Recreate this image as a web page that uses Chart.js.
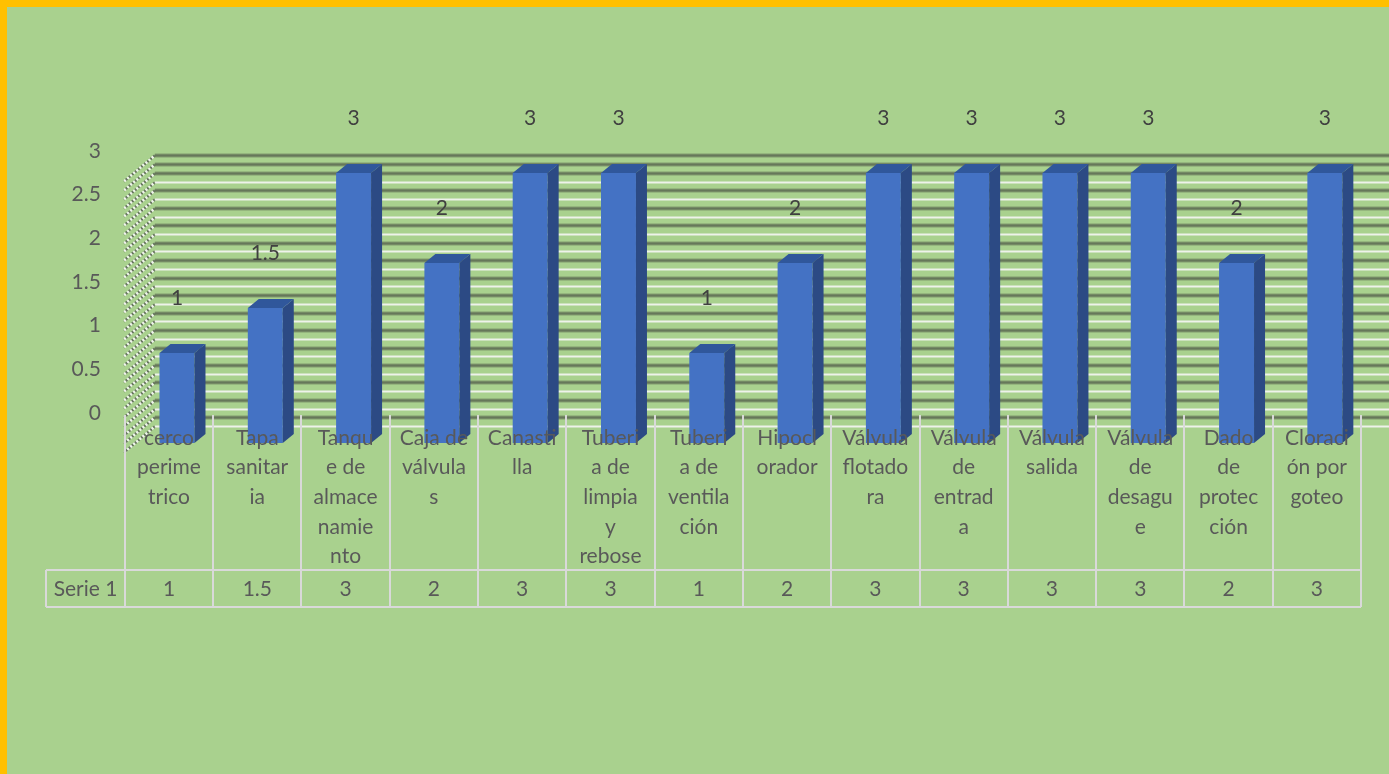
<!DOCTYPE html>
<html>
<head>
<meta charset="utf-8">
<script src="https://cdn.jsdelivr.net/npm/chart.js@4.4.0/dist/chart.umd.min.js"></script>
<style>
  html, body { margin: 0; padding: 0; background: #a9d18e; }
  canvas { display: block; }
</style>
</head>
<body>
<canvas id="chart" width="1389" height="774"></canvas>
<script>
// category names, already split the way they wrap inside the table cells
const categories = [
  ["cerco", "perime", "trico"],
  ["Tapa", "sanitar", "ia"],
  ["Tanqu", "e de", "almace", "namie", "nto"],
  ["Caja de", "válvula", "s"],
  ["Canasti", "lla"],
  ["Tuberi", "a de", "limpia", "y", "rebose"],
  ["Tuberi", "a de", "ventila", "ción"],
  ["Hipocl", "orador"],
  ["Válvula", "flotado", "ra"],
  ["Válvula", "de", "entrad", "a"],
  ["Válvula", "salida"],
  ["Válvula", "de", "desagu", "e"],
  ["Dado", "de", "protec", "ción"],
  ["Cloraci", "ón por", "goteo"]
];
const seriesName = "Serie 1";
const values = [1, 1.5, 3, 2, 3, 3, 1, 2, 3, 3, 3, 3, 2, 3];
const yTicks = [0, 0.5, 1, 1.5, 2, 2.5, 3];

const FONT = "Lato, 'Liberation Sans', sans-serif";
const TEXT = "#595959";
const depthX = 11;      // 3d depth of the columns
const depthY = 9;
const tableShift = 8;   // table sits a little left of the column fronts

// yellow frame + green chart background
const frame = {
  id: "frame",
  beforeDraw(chart) {
    const ctx = chart.ctx;
    ctx.save();
    ctx.fillStyle = "#ffc000";
    ctx.fillRect(0, 0, chart.width, chart.height);
    ctx.fillStyle = "#a9d18e";
    ctx.fillRect(7, 7, chart.width - 7, chart.height - 7);
    ctx.restore();
  }
};

// striped back wall and hatched side wall
const wall = {
  id: "wall",
  beforeDatasetsDraw(chart) {
    const ctx = chart.ctx;
    const s = chart.scales.yWall;
    const left = chart.chartArea.left + 22;
    ctx.save();
    for (let i = 0; i <= 31; i++) {
      const v = -0.15 + i * 0.1;
      const y = Math.round(s.getPixelForValue(v)) + 0.5;
      const dark = (31 - i) % 2 === 0 || i === 30;
      // side wall hatching
      ctx.setLineDash([2, 2]);
      ctx.lineWidth = 2.5;
      ctx.strokeStyle = "#687461";
      ctx.beginPath();
      ctx.moveTo(left, y);
      ctx.lineTo(left - 31, y + 26);
      ctx.stroke();
      ctx.lineDashOffset = 2;
      ctx.strokeStyle = "#f0f3ee";
      ctx.stroke();
      ctx.lineDashOffset = 0;
      ctx.setLineDash([]);
      // back wall line
      ctx.beginPath();
      ctx.moveTo(left, y);
      ctx.lineTo(chart.width, y);
      if (dark) {
        ctx.lineWidth = 4;
        ctx.strokeStyle = "rgba(98,114,86,0.55)";
        ctx.stroke();
        ctx.lineWidth = 2;
        ctx.strokeStyle = "#66775a";
        ctx.stroke();
      } else {
        ctx.lineWidth = 2;
        ctx.strokeStyle = "#eef2ea";
        ctx.stroke();
      }
    }
    ctx.restore();
  }
};

// side and top faces of the columns, then the value labels
const columns3d = {
  id: "columns3d",
  afterDatasetsDraw(chart) {
    const ctx = chart.ctx;
    const meta = chart.getDatasetMeta(0);
    ctx.save();
    meta.data.forEach((bar, i) => {
      const { x, y, base, width } = bar.getProps(["x", "y", "base", "width"], true);
      const l = x - width / 2, r = x + width / 2;
      ctx.fillStyle = "#2c4a84";
      ctx.beginPath();
      ctx.moveTo(r, y);
      ctx.lineTo(r + depthX, y - depthY);
      ctx.lineTo(r + depthX, base - depthY);
      ctx.lineTo(r, base);
      ctx.closePath();
      ctx.fill();
      ctx.fillStyle = "#30579b";
      ctx.beginPath();
      ctx.moveTo(l, y);
      ctx.lineTo(l + depthX, y - depthY);
      ctx.lineTo(r + depthX, y - depthY);
      ctx.lineTo(r, y);
      ctx.closePath();
      ctx.fill();

      ctx.fillStyle = "#404040";
      ctx.font = "21px " + FONT;
      ctx.textAlign = "center";
      ctx.textBaseline = "middle";
      ctx.fillText(String(values[i]), x, y - 55);
    });
    ctx.restore();
  }
};

// data table under the plot: category names and the series row
const dataTable = {
  id: "dataTable",
  afterDraw(chart) {
    const ctx = chart.ctx;
    const xs = chart.scales.x;
    const step = xs.width / categories.length;
    const top = chart.chartArea.bottom - 28;
    const rowTop = 570, rowBottom = 607;
    const headLeft = 46;
    ctx.save();
    ctx.strokeStyle = "#d9d9d9";
    ctx.lineWidth = 2;
    ctx.beginPath();
    for (let i = 0; i <= categories.length; i++) {
      const bx = Math.round(xs.getPixelForValue(i) - tableShift - step / 2);
      ctx.moveTo(bx, top);
      ctx.lineTo(bx, rowBottom);
    }
    const firstX = Math.round(xs.getPixelForValue(0) - tableShift - step / 2);
    const lastX = Math.round(xs.getPixelForValue(categories.length) - tableShift - step / 2);
    ctx.moveTo(headLeft, rowTop);
    ctx.lineTo(headLeft, rowBottom);
    ctx.moveTo(headLeft, rowTop);
    ctx.lineTo(lastX, rowTop);
    ctx.moveTo(headLeft, rowBottom);
    ctx.lineTo(lastX, rowBottom);
    ctx.stroke();

    ctx.fillStyle = TEXT;
    ctx.font = "21px " + FONT;
    ctx.textAlign = "center";
    ctx.textBaseline = "middle";
    categories.forEach((lines, i) => {
      const cx = xs.getPixelForValue(i) - tableShift;
      lines.forEach((t, k) => ctx.fillText(t, cx, 438 + k * 29.6));
      ctx.fillText(String(values[i]), cx, 589);
    });
    ctx.fillText(seriesName, (headLeft + firstX) / 2, 589);
    ctx.restore();
  }
};

new Chart(document.getElementById("chart"), {
  type: "bar",
  data: {
    labels: categories.map(c => c.join("")),
    datasets: [{
      label: seriesName,
      data: values,
      backgroundColor: "#4472c4",
      borderWidth: 0,
      categoryPercentage: 1,
      barPercentage: 0.396,
      yAxisID: "y"
    }]
  },
  options: {
    responsive: false,
    devicePixelRatio: 1,
    animation: false,
    layout: { padding: { left: 32.85, right: 20, top: 100, bottom: 331 } },
    plugins: { legend: { display: false }, tooltip: { enabled: false } },
    scales: {
      x: { type: "category", display: false },
      y: { display: false, min: 0, max: 343 / 90 },
      yWall: {
        type: "linear",
        position: "left",
        min: -30 / 87.33,
        max: -30 / 87.33 + 343 / 87.33,
        afterBuildTicks(scale) { scale.ticks = yTicks.map(v => ({ value: v })); },
        afterFit(scale) { scale.width = 100; },
        grid: { display: false, drawTicks: false },
        border: { display: false },
        ticks: {
          padding: 32,
          color: TEXT,
          font: { family: FONT, size: 21 },
          callback: v => String(v)
        }
      }
    }
  },
  plugins: [frame, wall, columns3d, dataTable]
});
</script>
</body>
</html>
